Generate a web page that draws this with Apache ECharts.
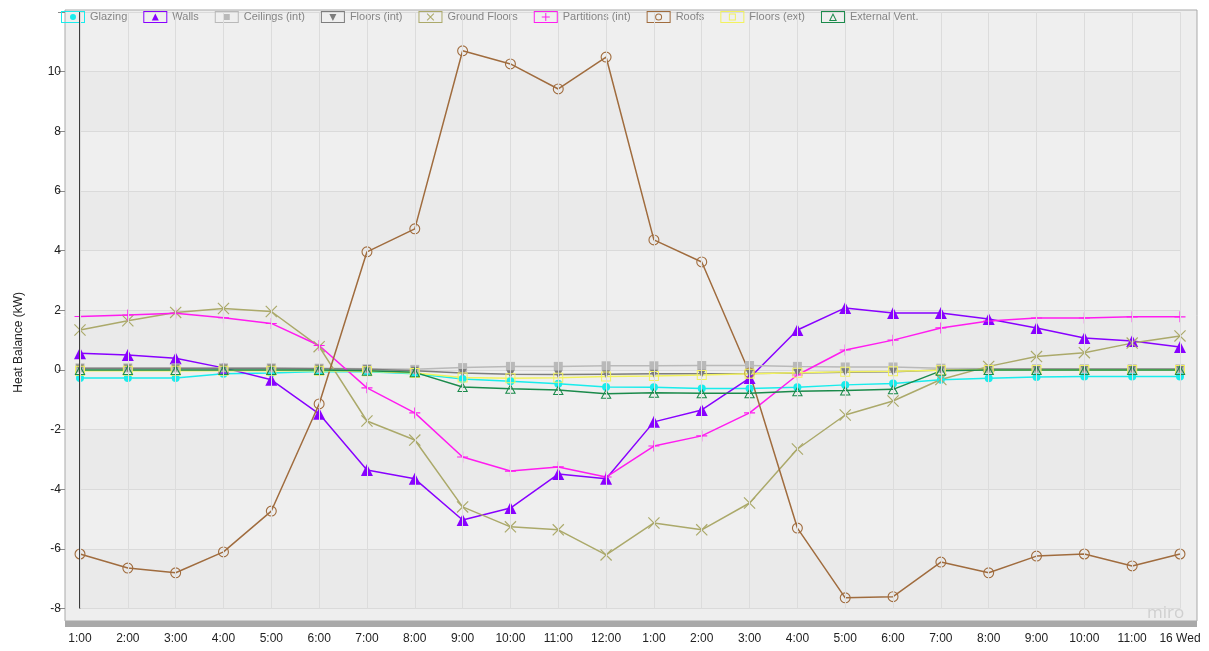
<!DOCTYPE html>
<html>
<head>
<meta charset="utf-8">
<title>Heat Balance</title>
<script src="https://cdn.jsdelivr.net/npm/echarts@6/dist/echarts.min.js"></script>
<style>
  html, body { margin: 0; padding: 0; background: #ffffff; }
  #chart { width: 1209px; height: 651px; }
</style>
</head>
<body>
<div id="chart"></div>
<script>
// Hourly heat balance by building element (kW)
const hours = ['1:00','2:00','3:00','4:00','5:00','6:00','7:00','8:00','9:00','10:00','11:00','12:00',
               '1:00','2:00','3:00','4:00','5:00','6:00','7:00','8:00','9:00','10:00','11:00','16 Wed'];

const glazing      = [-0.27,-0.27,-0.27,-0.13,-0.10,-0.05,-0.06,-0.13,-0.30,-0.38,-0.46,-0.57,-0.58,-0.62,-0.62,-0.58,-0.50,-0.45,-0.33,-0.28,-0.24,-0.22,-0.22,-0.22];
const walls        = [0.56,0.50,0.39,0.07,-0.33,-1.47,-3.35,-3.65,-5.03,-4.63,-3.49,-3.65,-1.74,-1.34,-0.27,1.34,2.08,1.91,1.91,1.71,1.41,1.07,0.97,0.77];
const ceilingsInt  = [0.07,0.07,0.07,0.07,0.07,0.06,0.04,0.02,0.08,0.12,0.12,0.14,0.14,0.15,0.15,0.12,0.10,0.10,0.06,0.04,0.04,0.04,0.04,0.04];
const floorsInt    = [0.05,0.05,0.05,0.05,0.05,0.04,0.02,-0.03,-0.10,-0.14,-0.15,-0.14,-0.13,-0.13,-0.12,-0.10,-0.08,-0.06,0.00,0.02,0.02,0.02,0.02,0.02];
const groundFloors = [1.34,1.65,1.93,2.06,1.96,0.78,-1.71,-2.35,-4.59,-5.26,-5.36,-6.20,-5.13,-5.36,-4.46,-2.65,-1.51,-1.04,-0.32,0.12,0.45,0.58,0.90,1.14];
const partitions   = [1.79,1.84,1.90,1.75,1.56,0.82,-0.60,-1.44,-2.92,-3.39,-3.25,-3.59,-2.55,-2.21,-1.44,-0.17,0.67,1.00,1.41,1.64,1.74,1.74,1.78,1.78];
const roofs        = [-6.17,-6.64,-6.80,-6.10,-4.73,-1.14,3.96,4.73,10.70,10.26,9.42,10.49,4.36,3.62,-0.10,-5.30,-7.64,-7.60,-6.44,-6.80,-6.24,-6.17,-6.57,-6.17];
const floorsExt    = [-0.03,-0.03,-0.03,-0.03,-0.03,-0.03,-0.04,-0.10,-0.25,-0.28,-0.26,-0.22,-0.20,-0.17,-0.13,-0.09,-0.06,-0.04,-0.01,0,0,0,0,0];
const externalVent = [0,0,0,0,0,0,-0.03,-0.08,-0.57,-0.63,-0.67,-0.80,-0.76,-0.78,-0.78,-0.71,-0.69,-0.65,-0.03,0,0,0,0,0];

const yTicks = { min: -8, max: 12, step: 2 };

// Marker shapes (filled outlines so they stay hollow over the plot background)
const MARK = {
  cross: 'path://M0,0.7L0.7,0L10,9.3L9.3,10ZM9.3,0L10,0.7L0.7,10L0,9.3Z',
  plus: 'path://M4.5,0H5.5V4.5H10V5.5H5.5V10H4.5V5.5H0V4.5H4.5Z',
  ring: 'path://M0,5A5,5 0 1 1 10,5A5,5 0 1 1 0,5ZM1,5A4,4 0 1 0 9,5A4,4 0 1 0 1,5Z',
  hollowSquare: 'path://M0,0H10V10H0ZM1,1V9H9V1Z',
  hollowTriangle: 'path://M5,0L10,10H0ZM5,2.3L1.6,9H8.4Z'
};

// Legend icons: framed box with the series marker inside
const BOX = 'M0,0H24V12H0ZM1,1V11H23V1Z';
const LEGEND_ICON = {
  glazing: 'path://' + BOX + 'M9,6A3,3 0 1 1 15,6A3,3 0 1 1 9,6Z',
  walls: 'path://' + BOX + 'M12,2.5L15.5,9.5H8.5Z',
  ceilings: 'path://' + BOX + 'M9,3H15V9H9Z',
  floorsInt: 'path://' + BOX + 'M8.5,3H15.5L12,10Z',
  ground: 'path://' + BOX + 'M8.3,3L9,2.3L15.7,9L15,9.7ZM15,2.3L15.7,3L9,9.7L8.3,9Z',
  partitions: 'path://' + BOX + 'M11.5,2H12.5V5.5H16V6.5H12.5V10H11.5V6.5H8V5.5H11.5Z',
  roofs: 'path://' + BOX + 'M8.5,6A3.5,3.5 0 1 1 15.5,6A3.5,3.5 0 1 1 8.5,6ZM9.5,6A2.5,2.5 0 1 0 14.5,6A2.5,2.5 0 1 0 9.5,6Z',
  floorsExt: 'path://' + BOX + 'M8.5,2.5H15.5V9.5H8.5ZM9.5,3.5V8.5H14.5V3.5Z',
  vent: 'path://' + BOX + 'M12,2L16,10H8ZM12,4.3L9.6,9H14.4Z'
};

const FONT = '"Liberation Sans", Arial, Helvetica, sans-serif';

function lineSeries(name, data, color, symbol, size, extra) {
  return Object.assign({
    name: name,
    type: 'line',
    data: data,
    symbol: symbol,
    symbolSize: size,
    showSymbol: true,
    showAllSymbol: true,
    lineStyle: { color: color, width: 1.5 },
    itemStyle: { color: color, borderWidth: 0 },
    emphasis: { disabled: true }
  }, extra || {});
}

const chart = echarts.init(document.getElementById('chart'), null, { renderer: 'canvas' });

chart.setOption({
  animation: false,
  backgroundColor: '#ffffff',
  textStyle: { fontFamily: FONT },
  graphic: [
    { type: 'rect', z: -10, silent: true,
      shape: { x: 65, y: 10, width: 1132, height: 611 },
      style: { fill: '#eeeeee', stroke: '#a9a9a9', lineWidth: 1 } },
    { type: 'rect', z: -5, silent: true,
      shape: { x: 65, y: 621, width: 1132, height: 6 },
      style: { fill: '#a9a9a9' } },
    { type: 'text', z: 5, silent: true, left: 1147, top: 605,
      style: { text: 'miro', fill: '#cfcfcf', font: '17px "Open Sans", sans-serif' } }
  ],
  legend: {
    left: 61,
    top: 11,
    padding: 0,
    itemWidth: 24,
    itemHeight: 12,
    itemGap: 16,
    selectedMode: false,
    itemStyle: { borderWidth: 0 },
    textStyle: { fontSize: 11, color: '#858585', fontFamily: FONT },
    data: [
      { name: 'Glazing', icon: LEGEND_ICON.glazing },
      { name: 'Walls', icon: LEGEND_ICON.walls },
      { name: 'Ceilings (int)', icon: LEGEND_ICON.ceilings },
      { name: 'Floors (int)', icon: LEGEND_ICON.floorsInt },
      { name: 'Ground Floors', icon: LEGEND_ICON.ground },
      { name: 'Partitions (int)', icon: LEGEND_ICON.partitions },
      { name: 'Roofs', icon: LEGEND_ICON.roofs },
      { name: 'Floors (ext)', icon: LEGEND_ICON.floorsExt },
      { name: 'External Vent.', icon: LEGEND_ICON.vent }
    ]
  },
  grid: {
    left: 80,
    right: 29,
    top: 12,
    bottom: 42.4,
    outerBoundsMode: 'none',
    containLabel: false
  },
  xAxis: {
    type: 'category',
    data: hours,
    boundaryGap: false,
    offset: 13,
    z: 10,
    axisLine: { show: false },
    axisTick: { show: true, inside: false, length: 6, interval: 0, lineStyle: { color: '#d6d6d6', width: 1 } },
    axisLabel: { interval: 0, margin: 11, color: '#222222', fontSize: 12, fontFamily: FONT },
    splitLine: { show: true, interval: 0, lineStyle: { color: '#dcdcdc', width: 1 } },
    splitArea: { show: false }
  },
  yAxis: {
    type: 'value',
    min: yTicks.min,
    max: yTicks.max,
    interval: yTicks.step,
    offset: 15,
    name: 'Heat Balance (kW)',
    nameLocation: 'middle',
    nameGap: 40,
    nameTextStyle: { color: '#222222', fontSize: 12, fontFamily: FONT, padding: [0, 64, 0, 0] },
    axisLine: { show: false },
    axisTick: { show: true, length: 7, lineStyle: { color: '#8a8a8a' } },
    axisLabel: {
      margin: 4, color: '#222222', fontSize: 12, fontFamily: FONT,
      formatter: function (v) { return v >= yTicks.max ? '' : String(v); }
    },
    splitLine: { show: true, lineStyle: { color: '#dadada', width: 1 } },
    splitArea: { show: true, areaStyle: { color: ['#eaeaea', '#efefef'] } }
  },
  series: [
    lineSeries('Glazing', glazing, '#19ecec', 'circle', 8, {
      clip: false,
      // cursor line at the first hour (category index 0)
      markLine: {
        silent: true,
        clip: false,
        symbol: ['none', 'none'],
        label: { show: false },
        lineStyle: { color: '#3c3c3c', width: 2, type: 'solid' },
        emphasis: { disabled: true },
        data: [[
          { coord: [0, yTicks.min] },
          { coord: [0, yTicks.max] }
        ]]
      }
    }),
    lineSeries('Walls', walls, '#8800ff', 'triangle', 12),
    lineSeries('Ceilings (int)', ceilingsInt, '#b9b9b9', 'rect', 9),
    lineSeries('Floors (int)', floorsInt, '#7d7d7d', 'triangle', 8, { symbolRotate: 180 }),
    lineSeries('Ground Floors', groundFloors, '#aba96a', MARK.cross, 12),
    lineSeries('Partitions (int)', partitions, '#ff1cf0', MARK.plus, 11),
    lineSeries('Roofs', roofs, '#a06c3e', MARK.ring, 11),
    lineSeries('Floors (ext)', floorsExt, '#f2f25e', MARK.hollowSquare, 10),
    lineSeries('External Vent.', externalVent, '#1b8a4b', MARK.hollowTriangle, [11, 10])
  ]
});
</script>
</body>
</html>
